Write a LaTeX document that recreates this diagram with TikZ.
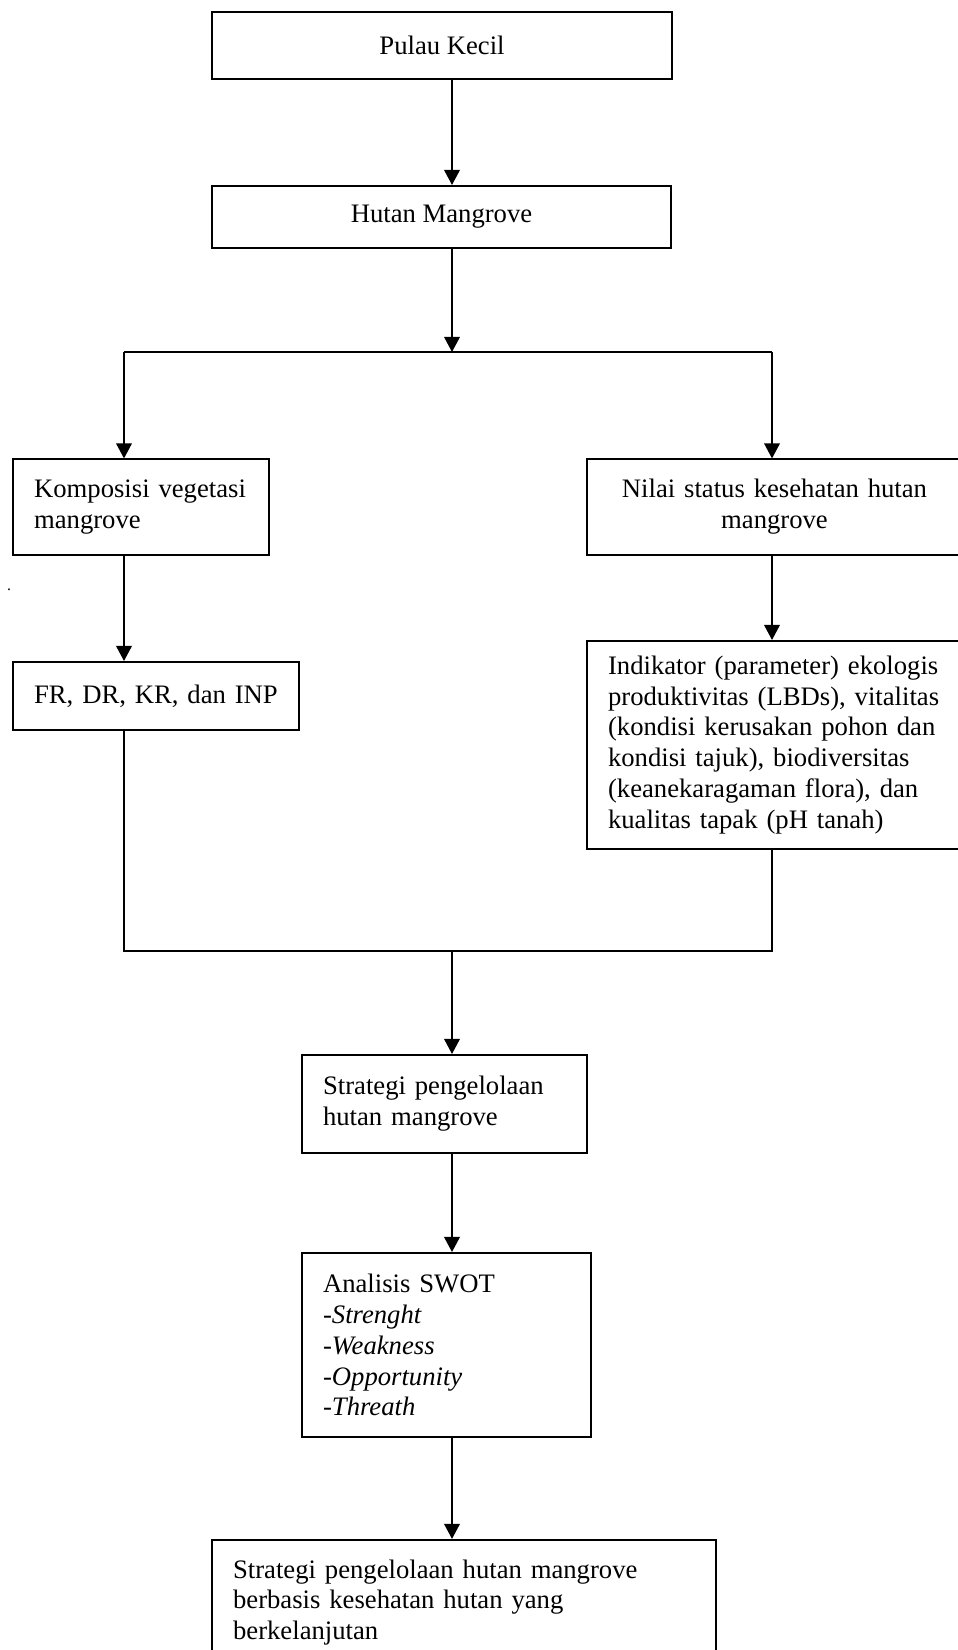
\documentclass[tikz,border=0pt]{standalone}
\usepackage{fontspec}
\setmainfont{Liberation Serif}
\usetikzlibrary{arrows.meta}
\begin{document}
\begin{tikzpicture}[x=0.45pt,y=-0.45pt,
  line width=0.9pt,
  box/.style={draw,line width=0.9pt,inner xsep=9.5pt,inner ysep=0pt,
    font=\fontsize{12}{13.9}\selectfont},
  flow/.style={-{Triangle[length=6.8pt,width=7pt]}}]

  \useasboundingbox (0,0) rectangle (957,1650);

  \node[box,align=center,minimum width=206.6pt,minimum height=30.2pt] (pulau) at (442,45.5){Pulau Kecil};
  \node[box,align=center,minimum width=206.6pt,minimum height=27.9pt] (hutan) at (441.5,217){Hutan Mangrove};
  \node[box,align=left,text width=96.2pt,minimum height=42.8pt] (komposisi) at (141,507){Komposisi vegetasi\\mangrove};
  \node[box,align=center,text width=149.8pt,minimum height=42.8pt] (nilai) at (774.5,507){Nilai status kesehatan hutan\\mangrove};
  \node[box,align=left,text width=109.7pt,minimum height=30.6pt] (fr) at (156,696){FR, DR, KR, dan INP};
  \node[box,align=left,text width=149.8pt,minimum height=93.6pt] (indikator) at (774.5,745){Indikator (parameter) ekologis\\produktivitas (LBDs), vitalitas\\(kondisi kerusakan pohon dan\\kondisi tajuk), biodiversitas\\(keanekaragaman flora), dan\\kualitas tapak (pH tanah)};
  \node[box,align=left,text width=109.3pt,minimum height=44.1pt] (strategi) at (444.5,1104){Strategi pengelolaan\\hutan mangrove};
  \node[box,align=left,text width=111.1pt,minimum height=82.8pt] (swot) at (446.5,1345){Analisis SWOT\\-\textit{Strenght}\\-\textit{Weakness}\\-\textit{Opportunity}\\-\textit{Threath}};
  \node[box,align=left,text width=207.8pt,minimum height=56.3pt] (akhir) at (464,1602.5){Strategi pengelolaan hutan mangrove\\berbasis kesehatan hutan yang\\berkelanjutan};
  \node[font=\scriptsize,inner sep=0pt] (titik) at (9,590){.};

  \coordinate (axis) at (452,0);
  \coordinate (split) at (452,352);
  \coordinate (kiri) at (124,352);
  \coordinate (kanan) at (772,352);
  \coordinate (join) at (452,951);

  \draw[flow] (pulau.south -| axis) -- (hutan.north -| axis);
  \draw[flow] (hutan.south -| axis) -- (split);
  \draw (kiri) -- (kanan);
  \draw[flow] (kiri) -- (komposisi.north -| kiri);
  \draw[flow] (kanan) -- (nilai.north -| kanan);
  \draw[flow] (komposisi.south -| kiri) -- (fr.north -| kiri);
  \draw[flow] (nilai.south -| kanan) -- (indikator.north -| kanan);
  \draw (fr.south -| kiri) |- (join) -| (indikator.south -| kanan);
  \draw[flow] (join) -- (strategi.north -| axis);
  \draw[flow] (strategi.south -| axis) -- (swot.north -| axis);
  \draw[flow] (swot.south -| axis) -- (akhir.north -| axis);
\end{tikzpicture}
\end{document}
